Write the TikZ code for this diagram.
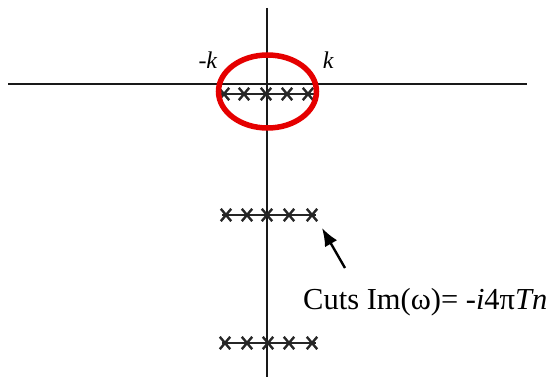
\documentclass[tikz,border=0pt]{standalone}
\usepackage{fontspec}
\setmainfont{Liberation Serif}
\usetikzlibrary{shapes.misc,shapes.geometric,arrows.meta}
\begin{document}
\begin{tikzpicture}[x=1pt,y=-1pt,
  axis/.style={line width=2.4pt,black!90},
  cutline/.style={line width=2.2pt,black!85},
  xmark/.style={cross out,draw=black!85,line width=2.4pt,minimum width=8pt,minimum height=10pt,inner sep=0pt},
  lbl/.style={font=\fontsize{24}{28}\selectfont,inner sep=0pt}]
\useasboundingbox (0,0) rectangle (555,377);
% axes
\coordinate (hl) at (8,84);
\coordinate (hr) at (527,84);
\coordinate (vt) at (267,8);
\coordinate (vb) at (267,377);
\draw[axis] (hl) -- (hr);
\draw[axis] (vt) -- (vb);
% cut 1
\coordinate (c1l) at (221,94);
\coordinate (c1r) at (314,94);
\draw[cutline] (c1l) -- (c1r);
\foreach \i/\x in {1/224,2/244,3/266,4/287,5/308}
  \node[xmark] (a\i) at (\x,94) {};
% cut 2
\coordinate (c2l) at (222,215);
\coordinate (c2r) at (316,215);
\draw[cutline] (c2l) -- (c2r);
\foreach \i/\x in {1/226,2/247,3/267,4/289,5/312}
  \node[xmark] (b\i) at (\x,215) {};
% cut 3
\coordinate (c3l) at (222,343);
\coordinate (c3r) at (316,343);
\draw[cutline] (c3l) -- (c3r);
\foreach \i/\x in {1/225,2/247,3/268,4/289,5/312}
  \node[xmark] (d\i) at (\x,343) {};
% red ellipse
\node[draw=red!90!black,line width=5.5pt,ellipse,minimum width=98pt,minimum height=73pt,inner sep=0pt] (ell) at (267.5,91.5) {};
% labels
\node[lbl] (mk) at (208,60) {-\textit{k}};
\node[lbl] (pk) at (328.5,60) {\textit{k}};
% arrow and text
\coordinate (tail) at (345,268);
\coordinate (tip) at (322,228);
\draw[line width=2.4pt,-{Latex[length=18pt,width=14pt]}] (tail) -- (tip);
\node[lbl,anchor=base west,font=\fontsize{30.5}{34}\selectfont] (cuts) at (303,309) {Cuts Im(ω)= -\textit{i}4π\textit{Tn}};
\end{tikzpicture}
\end{document}
